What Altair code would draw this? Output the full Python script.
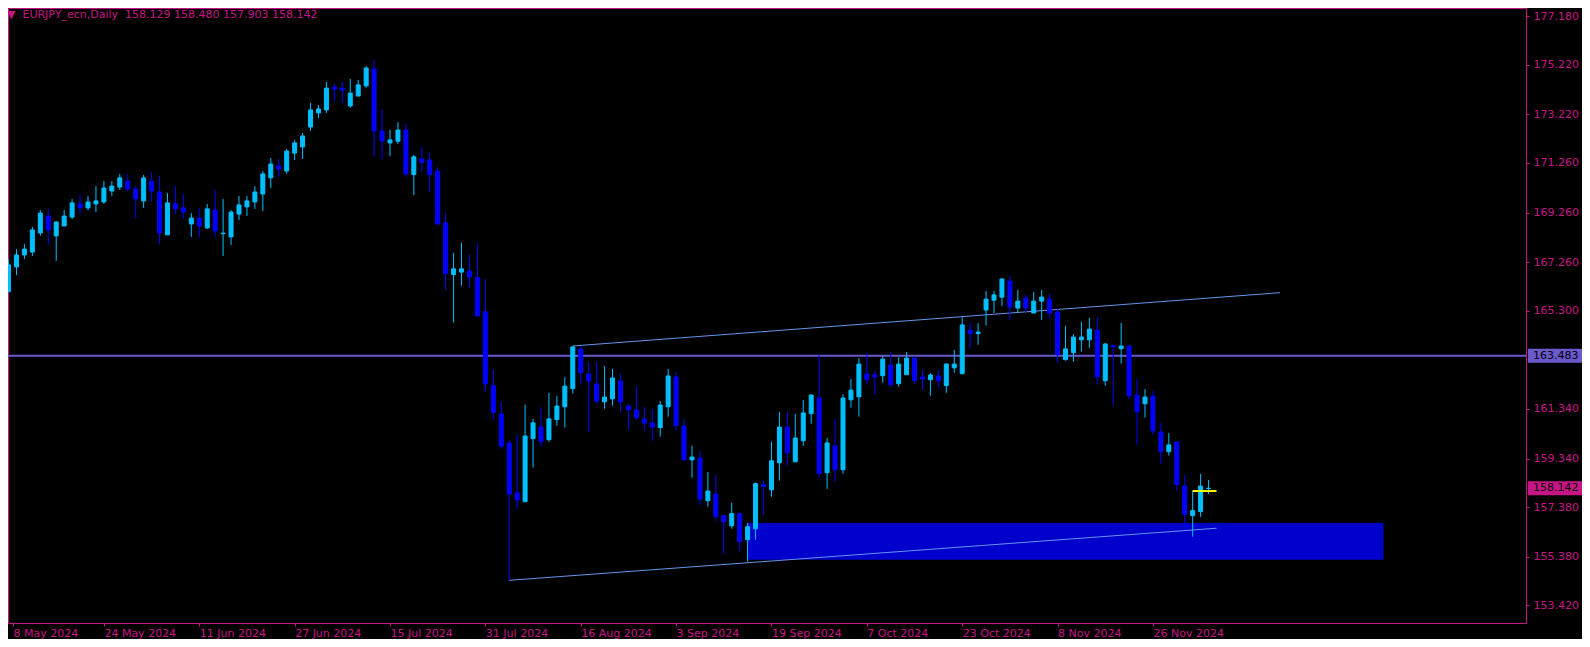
import json
import altair as alt
import pandas as pd

# ---- OHLC data (EURJPY daily, one bar per weekday from 8 May 2024) ----
opens = [166.07, 167.07, 167.55, 167.67, 168.44, 169.12, 168.32, 168.72, 169.08, 169.61,
         169.45, 169.61, 169.69, 170.13, 170.29, 170.53, 170.21, 169.73, 170.53, 170.09,
         168.36, 169.61, 169.45, 168.80, 169.04, 168.64, 169.36, 168.41, 168.28, 169.20,
         169.49, 169.69, 170.01, 170.66, 171.14, 170.94, 171.66, 171.91, 172.71, 173.28,
         173.40, 174.32, 174.28, 173.56, 173.96, 174.37, 175.05, 172.55, 172.07, 172.14,
         172.59, 170.79, 171.42, 171.38, 170.93, 168.85, 166.76, 166.86, 166.90, 166.64,
         165.26, 162.28, 161.14, 159.97, 157.96, 157.60, 160.15, 160.61, 160.10, 160.91,
         161.43, 162.16, 163.76, 162.75, 162.35, 161.63, 161.75, 162.47, 161.46, 161.30,
         160.93, 160.77, 160.59, 161.43, 162.63, 160.65, 159.29, 159.36, 157.64, 157.91,
         157.04, 156.63, 157.12, 156.07, 156.51, 158.29, 158.08, 159.17, 160.61, 159.21,
         160.06, 161.15, 161.78, 158.77, 159.85, 158.89, 161.71, 161.83, 162.75, 162.71,
         162.68, 163.11, 162.36, 162.72, 163.39, 162.63, 162.52, 162.67, 162.28, 163.00,
         162.76, 164.52, 164.38, 165.33, 165.73, 165.85, 166.50, 165.41, 165.81, 165.21,
         165.69, 165.77, 165.25, 163.33, 163.61, 164.13, 164.13, 164.52, 162.48, 163.89,
         163.77, 163.88, 161.90, 161.55, 161.86, 160.41, 159.62, 160.01, 158.23, 157.04,
         157.20, 158.129]
highs = [167.39, 167.79, 167.99, 168.68, 169.36, 169.41, 168.92, 169.36, 169.81, 169.97,
         169.93, 170.33, 170.53, 170.53, 170.82, 170.82, 170.33, 170.78, 170.90, 170.74,
         170.05, 170.33, 170.01, 169.24, 169.45, 169.61, 170.17, 169.81, 169.36, 169.93,
         169.93, 170.33, 170.94, 171.46, 171.42, 171.82, 172.19, 172.47, 173.68, 173.60,
         174.53, 174.45, 174.53, 174.65, 174.61, 175.17, 175.41, 173.44, 172.59, 172.91,
         172.84, 171.58, 171.90, 171.67, 171.09, 169.25, 167.64, 168.04, 167.56, 168.00,
         166.58, 162.93, 161.63, 160.06, 160.30, 161.51, 160.94, 161.41, 161.99, 161.86,
         162.62, 163.88, 163.88, 163.23, 163.23, 163.07, 162.95, 162.75, 161.54, 162.23,
         161.42, 161.31, 161.66, 162.95, 162.83, 160.93, 159.85, 159.64, 158.80, 158.68,
         157.04, 157.56, 157.16, 156.75, 158.37, 158.45, 160.02, 161.22, 161.22, 161.14,
         161.70, 161.94, 163.52, 160.17, 160.93, 161.94, 162.55, 163.39, 163.60, 162.87,
         163.47, 163.64, 163.43, 163.64, 163.47, 162.91, 162.79, 162.91, 163.19, 163.72,
         165.05, 164.81, 164.81, 166.10, 166.10, 166.62, 166.70, 166.14, 165.94, 166.06,
         166.14, 165.98, 165.41, 164.69, 164.36, 164.85, 165.01, 165.05, 164.00, 163.93,
         164.81, 163.88, 162.55, 162.14, 162.06, 160.77, 160.37, 160.01, 158.68, 158.04,
         158.72, 158.480]
lows = [166.05, 166.74, 167.39, 167.51, 168.32, 167.99, 167.31, 168.72, 169.00, 169.20,
        169.36, 169.28, 169.61, 169.93, 170.17, 170.13, 169.04, 169.45, 169.69, 167.99,
        168.36, 169.20, 169.00, 168.28, 168.28, 168.60, 168.28, 167.51, 167.95, 168.96,
        169.12, 169.41, 169.32, 170.25, 170.70, 170.82, 171.38, 171.42, 172.55, 173.07,
        173.28, 173.76, 173.68, 173.48, 173.96, 174.28, 171.54, 171.42, 171.54, 172.03,
        170.70, 169.97, 170.91, 170.07, 168.77, 166.15, 164.83, 166.31, 166.24, 165.09,
        162.05, 160.91, 159.73, 154.43, 157.31, 157.60, 158.98, 159.82, 160.02, 160.66,
        160.59, 161.96, 162.32, 160.42, 161.55, 161.35, 161.47, 161.23, 160.50, 160.91,
        160.46, 160.06, 160.22, 161.03, 160.50, 159.25, 158.57, 157.48, 157.40, 156.83,
        155.50, 156.51, 155.62, 155.18, 156.07, 157.08, 157.80, 158.45, 159.05, 159.21,
        159.86, 160.75, 158.57, 158.12, 158.41, 158.73, 161.39, 161.03, 162.32, 161.92,
        162.40, 162.20, 162.24, 162.72, 162.36, 162.12, 161.87, 162.20, 161.99, 162.80,
        162.76, 163.81, 163.93, 164.70, 165.21, 165.49, 164.94, 165.25, 165.25, 165.21,
        164.93, 165.01, 163.21, 163.29, 163.25, 163.65, 163.81, 162.32, 162.28, 161.51,
        163.17, 161.74, 159.90, 160.99, 160.30, 159.13, 159.46, 158.04, 156.47, 156.19,
        156.99, 157.903]
closes = [167.15, 167.55, 167.79, 168.56, 169.24, 168.56, 168.88, 169.12, 169.65, 169.45,
          169.69, 169.73, 170.25, 170.33, 170.66, 170.21, 169.81, 170.66, 170.13, 168.44,
          169.65, 169.41, 169.28, 169.04, 168.72, 169.41, 168.52, 168.43, 169.28, 169.57,
          169.73, 170.09, 170.82, 171.22, 171.02, 171.74, 172.07, 172.35, 173.40, 173.44,
          174.28, 174.24, 174.20, 174.08, 174.41, 175.09, 172.55, 172.15, 172.19, 172.59,
          170.82, 171.51, 171.28, 170.79, 168.80, 166.79, 166.99, 166.99, 166.66, 165.09,
          162.35, 161.20, 159.84, 157.91, 157.67, 160.25, 160.78, 160.02, 160.94, 161.46,
          162.26, 163.84, 162.80, 162.47, 161.66, 161.82, 162.59, 161.63, 161.31, 160.99,
          160.77, 160.61, 161.50, 162.67, 160.67, 159.29, 159.40, 157.71, 158.03, 157.00,
          156.79, 157.12, 155.99, 156.59, 158.33, 158.21, 159.25, 160.61, 159.58, 160.17,
          161.18, 161.90, 158.74, 159.97, 158.89, 161.78, 162.10, 163.15, 162.52, 162.63,
          163.35, 162.32, 163.15, 163.39, 162.48, 162.55, 162.71, 162.48, 163.15, 163.15,
          164.73, 164.38, 164.44, 165.77, 165.94, 166.58, 165.45, 165.69, 165.41, 165.69,
          165.85, 165.21, 163.53, 163.76, 164.24, 164.24, 164.56, 162.64, 163.96, 163.85,
          163.88, 161.87, 161.23, 161.82, 160.46, 159.62, 159.89, 158.29, 157.08, 157.24,
          158.23, 158.142]

# ---- axis ticks / labels ----
x_tick_idx = [0, 12, 24, 36, 48, 60, 72, 84, 96, 108, 120, 132, 144]
x_tick_labels = ["8 May 2024", "24 May 2024", "11 Jun 2024", "27 Jun 2024", "15 Jul 2024",
                 "31 Jul 2024", "16 Aug 2024", "3 Sep 2024", "19 Sep 2024", "7 Oct 2024",
                 "23 Oct 2024", "8 Nov 2024", "26 Nov 2024"]
y_ticks = [177.18, 175.22, 173.22, 171.26, 169.26, 167.26, 165.30,
           161.34, 159.34, 157.38, 155.38, 153.42]

# ---- drawn objects ----
hline_price = 163.483
upper_x = [71, 160]
upper_p = [163.88, 166.03]
lower_x = [63, 152]
lower_p = [154.43, 156.53]
zone_x = [93, 173]
zone_p = [155.26, 156.74]
yellow_x = [149, 152]
yellow_p = [158.03, 158.03]

MAG = "#C71585"
FONT = "DejaVu Sans"
W, H = 1518, 615
X_DOM = [0.5625, 190.3125]
Y_DOM = [152.708, 177.511]

n = len(opens)
df = pd.DataFrame({"i": list(range(n)), "open": opens, "high": highs,
                   "low": lows, "close": closes})
df["dir"] = ["up" if c >= o else "down" for o, c in zip(opens, closes)]

xs = alt.Scale(domain=X_DOM, nice=False, zero=False)
ys = alt.Scale(domain=Y_DOM, nice=False, zero=False)
label_arr = json.dumps(x_tick_labels).replace('"', "'")
x_axis = alt.Axis(values=[max(v, X_DOM[0]) for v in x_tick_idx],
                  labelExpr=f"{label_arr}[round(datum.value/12)]",
                  labelAlign="left", labelBaseline="top", labelPadding=1,
                  tickSize=3, labelOverlap=False, labelFlush=False, title=None,
                  domain=False, grid=False)
y_axis = alt.Axis(values=y_ticks, format=".3f", orient="right", tickSize=3,
                  labelPadding=4, title=None, domain=False, grid=False,
                  labelOverlap=False)

X = alt.X("i:Q", scale=xs, axis=x_axis)
cscale = alt.Scale(domain=["up", "down"], range=["#00BFFF", "#0000FF"])

base = alt.Chart(df)
wicks = base.mark_rule(strokeWidth=1, clip=True).encode(
    x=X, y=alt.Y("low:Q", scale=ys, axis=y_axis), y2="high:Q",
    color=alt.Color("dir:N", scale=cscale, legend=None))
bodies = base.mark_bar(size=4, strokeWidth=1, clip=True).encode(
    x=X, y=alt.Y("open:Q", scale=ys), y2="close:Q",
    fill=alt.Fill("dir:N", scale=cscale, legend=None),
    stroke=alt.Stroke("dir:N", scale=cscale, legend=None))

zone_df = pd.DataFrame({"x0": [zone_x[0]], "x1": [zone_x[1]],
                        "p0": [zone_p[0]], "p1": [zone_p[1]]})
zone = alt.Chart(zone_df).mark_rect(color="#0000CD", clip=True).encode(
    x=alt.X("x0:Q", scale=xs), x2="x1:Q", y=alt.Y("p0:Q", scale=ys), y2="p1:Q")

hl_df = pd.DataFrame({"p": [hline_price]})
hline = alt.Chart(hl_df).mark_rule(color="#6A5ACD", strokeWidth=2).encode(
    y=alt.Y("p:Q", scale=ys))

tl_df = pd.DataFrame({"x": upper_x + lower_x, "p": upper_p + lower_p,
                      "g": ["up", "up", "low", "low"]})
tlines = alt.Chart(tl_df).mark_line(color="#6495ED", strokeWidth=1, clip=True).encode(
    x=alt.X("x:Q", scale=xs), y=alt.Y("p:Q", scale=ys), detail="g:N")

yl_df = pd.DataFrame({"x": yellow_x, "p": yellow_p})
yline = alt.Chart(yl_df).mark_line(color="#FFFF00", strokeWidth=2, clip=True).encode(
    x=alt.X("x:Q", scale=xs), y=alt.Y("p:Q", scale=ys))

# price tags on the right scale
tag_shape = "M-1,-0.26L1,-0.26L1,0.26L-1,0.26Z"
h_df = pd.DataFrame({"p": [hline_price], "t": [f"{hline_price:.3f}"]})
c_df = pd.DataFrame({"p": [closes[-1]], "t": [f"{closes[-1]:.3f}"]})


def tag(d, fill):
    bg = alt.Chart(d).mark_point(shape=tag_shape, filled=True, size=54 * 54, opacity=1,
                                 strokeWidth=0, color=fill).encode(
        x=alt.value(W + 29), y=alt.Y("p:Q", scale=ys))
    tx = alt.Chart(d).mark_text(align="left", baseline="middle", color="#000000",
                                font=FONT, fontSize=11).encode(
        x=alt.value(W + 7), y=alt.Y("p:Q", scale=ys), text="t:N")
    return bg + tx


title_df = pd.DataFrame({"t": [f"\u25bc\u00a0\u00a0EURJPY_ecn,Daily\u00a0\u00a0{opens[-1]:.3f} "
                               f"{highs[-1]:.3f} {lows[-1]:.3f} {closes[-1]:.3f}"]})
title = alt.Chart(title_df).mark_text(align="left", baseline="middle", color=MAG,
                                      font=FONT, fontSize=11).encode(
    x=alt.value(-1), y=alt.value(6.5), text="t:N")

chart = alt.layer(zone, hline, tlines, wicks, bodies, yline,
                  tag(h_df, "#6A5ACD"), tag(c_df, MAG), title).properties(
    width=W, height=H, background="#000000",
    autosize=alt.AutoSizeParams(type="none"),
    padding={"left": 0, "top": 0, "right": 56, "bottom": 16}
).configure_view(stroke=MAG, strokeWidth=1).configure_axis(
    labelColor=MAG, tickColor=MAG, labelFont=FONT, labelFontSize=11
)

chart.save("out.html", embed_options={"renderer": "svg", "actions": False})
